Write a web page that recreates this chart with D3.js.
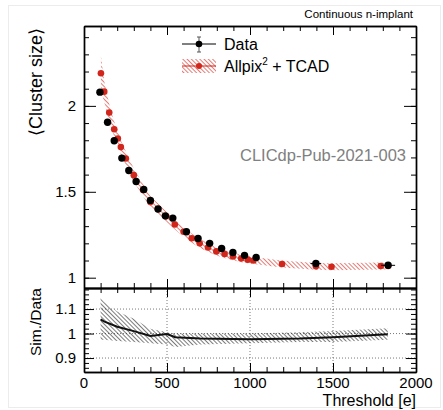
<!DOCTYPE html>
<html>
<head>
<meta charset="utf-8">
<script src="https://cdn.jsdelivr.net/npm/d3@7"></script>
<style>
  body { margin: 0; background: #fff; }
  svg { font-family: "Liberation Sans", Arial, sans-serif; }
</style>
</head>
<body>
<svg width="443" height="410"></svg>
<script>
// data
var dataThr  = [96, 142, 182, 228, 270, 314, 360, 400, 446, 490, 535, 617, 687, 757, 829, 897, 967, 1037, 1397, 1832];
var dataVal  = [2.08, 1.905, 1.797, 1.696, 1.624, 1.56, 1.513, 1.45, 1.40, 1.36, 1.347, 1.267, 1.228, 1.20, 1.17, 1.147, 1.13, 1.118, 1.083, 1.072];
var dataXErr = [8, 8, 8, 8, 8, 8, 8, 8, 8, 8, 8, 10, 10, 10, 10, 10, 10, 12, 32, 42];

var simThr = [102, 122, 152, 182, 204, 222, 252, 300, 356, 400, 446, 494, 547, 600, 649, 697, 747, 797, 847, 897, 947, 987, 1021, 1193, 1397, 1491, 1788, 1832];
var simVal = [2.19, 2.083, 1.961, 1.864, 1.81, 1.76, 1.694, 1.597, 1.51, 1.44, 1.40, 1.357, 1.31, 1.267, 1.23, 1.20, 1.176, 1.153, 1.138, 1.124, 1.112, 1.105, 1.10, 1.08, 1.066, 1.064, 1.068, 1.068];
var simErr = [0.1, 0.06, 0.05, 0.045, 0.042, 0.04, 0.04, 0.038, 0.036, 0.034, 0.032, 0.03, 0.03, 0.028, 0.027, 0.026, 0.025, 0.024, 0.023, 0.022, 0.022, 0.021, 0.021, 0.02, 0.02, 0.02, 0.02, 0.02];

var ratioThr = [100, 120, 200, 300, 400, 500, 550, 700, 1000, 1300, 1500, 1830];
var ratioVal = [1.058, 1.050, 1.028, 1.010, 0.990, 0.998, 0.985, 0.980, 0.977, 0.980, 0.985, 0.997];
var ratioLo  = [0.975, 0.975, 0.970, 0.965, 0.960, 0.955, 0.945, 0.955, 0.960, 0.965, 0.965, 0.975];
var ratioHi  = [1.145, 1.130, 1.090, 1.060, 1.020, 1.005, 1.000, 1.000, 1.000, 1.005, 1.010, 1.022];

var xTicks = [0, 500, 1000, 1500, 2000];
var topYTicks = [1, 1.5, 2];
var botYTicks = [0.9, 1, 1.1];

var red = '#d0261c';
var svg = d3.select('svg');

var pL = 84, pR = 416, pT = 26, pM = 288, pB = 372;

var x = d3.scaleLinear().domain([0, 2000]).range([pL, pR]);
var yTop = d3.scaleLinear().domain([0.94, 2.465]).range([pM, pT]);
var yBot = d3.scaleLinear().domain([0.843, 1.186]).range([pB, pM]);

// faint page border
svg.append('rect').attr('x', 8.5).attr('y', 5.5).attr('width', 432).attr('height', 402)
  .attr('fill', 'none').attr('stroke', '#ececec');

var defs = svg.append('defs');
function hatch(id, color, gap, w) {
  var p = defs.append('pattern').attr('id', id)
    .attr('patternUnits', 'userSpaceOnUse')
    .attr('width', gap).attr('height', gap)
    .attr('patternTransform', 'rotate(-45)');
  p.append('line').attr('x1', 0).attr('y1', 0).attr('x2', 0).attr('y2', gap)
    .attr('stroke', color).attr('stroke-width', w);
}
hatch('hred', red, 3, 1.2);
hatch('hgrey', '#222', 3, 1.2);

// ---------- top panel ----------
var sim = simThr.map((t, i) => ({t: t, v: simVal[i], e: simErr[i]}));
var area = d3.area()
  .x(d => x(d.t))
  .y0(d => yTop(d.v - d.e))
  .y1(d => yTop(d.v + d.e));
svg.append('path').attr('d', area(sim)).attr('fill', 'url(#hred)');

svg.selectAll('.simpt').data(sim).enter().append('circle')
  .attr('cx', d => x(d.t)).attr('cy', d => yTop(d.v)).attr('r', 3.3)
  .attr('fill', red);

var dat = dataThr.map((t, i) => ({t: t, v: dataVal[i], xe: dataXErr[i]}));
svg.selectAll('.dxe').data(dat).enter().append('line')
  .attr('x1', d => x(d.t - d.xe)).attr('x2', d => x(d.t + d.xe))
  .attr('y1', d => yTop(d.v)).attr('y2', d => yTop(d.v))
  .attr('stroke', '#000').attr('stroke-width', 1);
svg.selectAll('.dpt').data(dat).enter().append('circle')
  .attr('cx', d => x(d.t)).attr('cy', d => yTop(d.v)).attr('r', 3.7)
  .attr('fill', '#000');

// axes (ticks inward on all four sides, ROOT style)
function axes(g, y, yMajor, yMinor, yMajLen) {
  var xMinor = d3.range(0, 2001, 100);
  g.append('g').attr('transform', `translate(0,${y.range()[0]})`)
    .call(d3.axisBottom(x).tickValues(xMinor).tickSize(-5).tickSizeOuter(0).tickFormat(''));
  g.append('g').attr('transform', `translate(0,${y.range()[0]})`)
    .call(d3.axisBottom(x).tickValues(xTicks).tickSize(-9).tickSizeOuter(0).tickFormat(''));
  g.append('g').attr('transform', `translate(0,${y.range()[1]})`)
    .call(d3.axisTop(x).tickValues(xMinor).tickSize(-5).tickSizeOuter(0).tickFormat(''));
  g.append('g').attr('transform', `translate(0,${y.range()[1]})`)
    .call(d3.axisTop(x).tickValues(xTicks).tickSize(-9).tickSizeOuter(0).tickFormat(''));
  g.append('g').attr('transform', `translate(${pL},0)`)
    .call(d3.axisLeft(y).tickValues(yMinor).tickSize(-5).tickSizeOuter(0).tickFormat(''));
  g.append('g').attr('class', 'ylab').attr('transform', `translate(${pL},0)`)
    .call(d3.axisLeft(y).tickValues(yMajor).tickSize(-yMajLen).tickSizeOuter(0).tickPadding(8).tickFormat(d3.format('~g')));
  g.append('g').attr('transform', `translate(${pR},0)`)
    .call(d3.axisRight(y).tickValues(yMinor).tickSize(-5).tickSizeOuter(0).tickFormat(''));
  g.append('g').attr('transform', `translate(${pR},0)`)
    .call(d3.axisRight(y).tickValues(yMajor).tickSize(-yMajLen).tickSizeOuter(0).tickFormat(''));
  g.selectAll('.domain').attr('stroke', '#000').attr('stroke-width', 1.4);
  g.selectAll('.tick line').attr('stroke', '#000');
  g.selectAll('.ylab text').attr('font-size', 15).attr('fill', '#000')
    .attr('font-family', '"Liberation Sans", Arial, sans-serif');
}

var gTop = svg.append('g');
axes(gTop, yTop, topYTicks, d3.range(1, 2.45, 0.1).map(v => +v.toFixed(2)), 12);

// ---------- bottom panel ----------
var gridG = svg.append('g');
gridG.selectAll('.vg').data([500, 1000, 1500]).enter().append('line')
  .attr('x1', d => x(d)).attr('x2', d => x(d)).attr('y1', pM).attr('y2', pB)
  .attr('stroke', '#555').attr('stroke-dasharray', '1,2').attr('stroke-width', 0.8);
gridG.selectAll('.hg').data(botYTicks).enter().append('line')
  .attr('x1', pL).attr('x2', pR).attr('y1', d => yBot(d)).attr('y2', d => yBot(d))
  .attr('stroke', '#555').attr('stroke-dasharray', '1,2').attr('stroke-width', 0.8);

var rat = ratioThr.map((t, i) => ({t: t, v: ratioVal[i], lo: ratioLo[i], hi: ratioHi[i]}));
svg.append('path')
  .attr('d', d3.area().x(d => x(d.t)).y0(d => yBot(d.lo)).y1(d => yBot(d.hi))(rat))
  .attr('fill', 'url(#hgrey)');
svg.append('path')
  .attr('d', d3.line().x(d => x(d.t)).y(d => yBot(d.v))(rat))
  .attr('fill', 'none').attr('stroke', '#111').attr('stroke-width', 2);

var gBot = svg.append('g');
axes(gBot, yBot, botYTicks, d3.range(0.86, 1.19, 0.02).map(v => +v.toFixed(2)), 10);

// x tick labels
svg.selectAll('.xl').data(xTicks).enter().append('text')
  .attr('x', d => x(d)).attr('y', 388).attr('text-anchor', 'middle')
  .attr('font-size', 15).text(d => d);

// ---------- texts ----------
svg.append('text').attr('x', pR).attr('y', 406).attr('text-anchor', 'end')
  .attr('font-size', 16).text('Threshold [e]');

svg.append('text').attr('transform', `translate(42,${pT + 2}) rotate(-90)`)
  .attr('text-anchor', 'end').attr('font-size', 18).text('\u27E8Cluster size\u27E9');

svg.append('text').attr('transform', `translate(41,${pM}) rotate(-90)`)
  .attr('text-anchor', 'end').attr('font-size', 15.5).text('Sim./Data');

svg.append('text').attr('x', 413).attr('y', 18).attr('text-anchor', 'end')
  .attr('font-size', 11.5).text('Continuous n-implant');

svg.append('text').attr('x', 406).attr('y', 161).attr('text-anchor', 'end')
  .attr('font-size', 16.5).attr('fill', '#808080').text('CLICdp-Pub-2021-003');

// legend
var lg = svg.append('g');
lg.append('line').attr('x1', 182).attr('x2', 216).attr('y1', 44).attr('y2', 44).attr('stroke', '#000');
lg.append('line').attr('x1', 199).attr('x2', 199).attr('y1', 37).attr('y2', 52).attr('stroke', '#555');
lg.append('line').attr('x1', 197).attr('x2', 201).attr('y1', 37).attr('y2', 37).attr('stroke', '#555');
lg.append('line').attr('x1', 197).attr('x2', 201).attr('y1', 52).attr('y2', 52).attr('stroke', '#555');
lg.append('circle').attr('cx', 199).attr('cy', 44).attr('r', 3.3).attr('fill', '#000');
lg.append('text').attr('x', 224).attr('y', 50).attr('font-size', 16).text('Data');

lg.append('rect').attr('x', 182).attr('y', 59).attr('width', 34).attr('height', 14)
  .attr('fill', 'url(#hred)');
lg.append('line').attr('x1', 182).attr('x2', 216).attr('y1', 66).attr('y2', 66).attr('stroke', red);
lg.append('circle').attr('cx', 199).attr('cy', 66).attr('r', 3).attr('fill', red);
var t2 = lg.append('text').attr('x', 224).attr('y', 72).attr('font-size', 16);
t2.append('tspan').text('Allpix');
t2.append('tspan').attr('font-size', 10).attr('dy', -7).text('2');
t2.append('tspan').attr('dy', 7).text(' + TCAD');
</script>
</body>
</html>
